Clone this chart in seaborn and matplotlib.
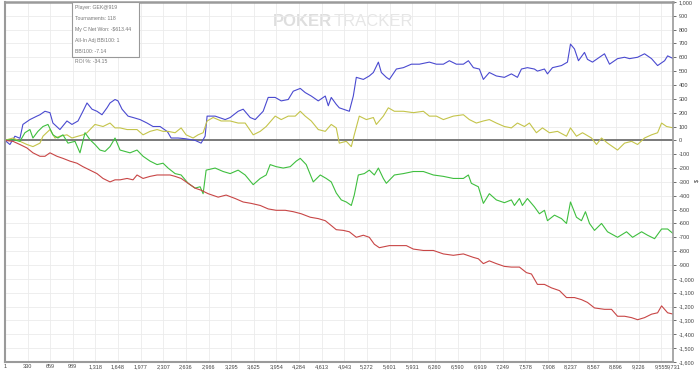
import pandas as pd
import matplotlib.pyplot as plt
from matplotlib.patches import Rectangle
import seaborn as sns

# Hand-read values from the reference graph
blue_hands = [1, 74, 147, 220, 263, 365, 467, 511, 584, 657, 700, 802, 904, 977, 1065, 1137, 1196, 1269,
              1341, 1414, 1487, 1531, 1604, 1647, 1706, 1793, 1866, 1968, 2070, 2157, 2259, 2361, 2376,
              2420, 2522, 2624, 2769, 2857, 2915, 2944, 3061, 3207, 3280, 3396, 3469, 3571, 3644, 3760,
              3833, 3935, 4023, 4125, 4198, 4300, 4372, 4460, 4562, 4664, 4708, 4751, 4824, 4868, 5014,
              5072, 5116, 5218, 5305, 5364, 5437, 5480, 5553, 5597, 5699, 5801, 5917, 6034, 6179, 6281,
              6383, 6470, 6572, 6674, 6747, 6820, 6907, 6965, 7052, 7154, 7271, 7373, 7461, 7519, 7606,
              7708, 7752, 7854, 7898, 7971, 8102, 8189, 8233, 8291, 8349, 8437, 8480, 8553, 8655, 8728,
              8801, 8918, 9020, 9093, 9210, 9311, 9413, 9501, 9603, 9647, 9731]
blue_won = [0, -30, 30, 15, 115, 150, 175, 185, 210, 200, 125, 78, 140, 115, 140, 210, 270, 225,
            210, 185, 235, 270, 295, 285, 225, 175, 165, 150, 125, 100, 100, 65, 55,
            17, 17, 12, 0, -20, 30, 175, 175, 150, 165, 210, 225, 165, 150, 210,
            310, 310, 285, 295, 355, 375, 345, 320, 285, 320, 250, 310, 260, 235, 210,
            320, 455, 440, 465, 490, 565, 490, 455, 440, 515, 525, 550, 550, 565, 550,
            550, 575, 550, 550, 575, 525, 515, 440, 490, 465, 455, 480, 455, 515, 525,
            515, 500, 515, 480, 525, 540, 565, 695, 660, 575, 635, 585, 565, 600, 625,
            550, 590, 600, 590, 600, 625, 590, 540, 575, 610, 590]

yellow_hands = [1, 118, 220, 322, 409, 511, 555, 657, 730, 802, 904, 977, 1065, 1137, 1196, 1312, 1429,
                1531, 1604, 1677, 1779, 1924, 2012, 2114, 2216, 2303, 2376, 2478, 2566, 2638, 2740, 2813,
                2886, 2944, 3032, 3148, 3280, 3396, 3498, 3615, 3717, 3804, 3935, 4023, 4125, 4227, 4300,
                4372, 4460, 4562, 4664, 4751, 4824, 4868, 4970, 5043, 5086, 5159, 5262, 5364, 5407, 5509,
                5582, 5670, 5801, 5946, 6092, 6179, 6281, 6383, 6528, 6674, 6761, 6863, 6965, 7052, 7154,
                7271, 7373, 7461, 7563, 7635, 7737, 7825, 7927, 8044, 8175, 8233, 8320, 8408, 8539, 8612,
                8685, 8772, 8918, 9020, 9122, 9210, 9311, 9413, 9501, 9559, 9632, 9731]
yellow_won = [0, 17, -7, -30, -45, -20, 30, 78, 17, 30, 40, 17, 30, 40, 55, 115, 100,
              125, 90, 90, 78, 78, 40, 65, 78, 65, 65, 55, 90, 40, 17, 40,
              55, 140, 165, 140, 140, 125, 125, 40, 65, 100, 175, 150, 175, 175, 210,
              175, 140, 78, 65, 115, 90, -20, -7, -45, 40, 175, 150, 165, 115, 175,
              235, 210, 210, 200, 210, 175, 175, 150, 175, 185, 150, 125, 140, 150, 125,
              100, 90, 125, 100, 125, 55, 90, 55, 65, 30, 90, 30, 55, 17, -30,
              17, -20, -70, -20, -7, -30, 17, 40, 55, 125, 100, 90]

green_hands = [1, 118, 220, 292, 365, 409, 482, 555, 628, 700, 773, 846, 919, 1021, 1094, 1167, 1239,
               1312, 1385, 1458, 1531, 1604, 1677, 1749, 1822, 1924, 2012, 2114, 2216, 2303, 2376, 2478,
               2566, 2668, 2769, 2842, 2886, 2930, 3061, 3178, 3280, 3396, 3498, 3615, 3717, 3804, 3862,
               3950, 4052, 4154, 4241, 4300, 4387, 4489, 4591, 4678, 4751, 4824, 4897, 4970, 5043, 5086,
               5145, 5232, 5305, 5378, 5437, 5509, 5553, 5670, 5801, 5946, 6092, 6237, 6383, 6528, 6674,
               6747, 6790, 6892, 6965, 7052, 7154, 7271, 7373, 7417, 7490, 7533, 7606, 7708, 7781, 7854,
               7898, 8000, 8102, 8175, 8233, 8320, 8393, 8451, 8510, 8583, 8685, 8772, 8918, 9049, 9137,
               9268, 9355, 9457, 9559, 9647, 9731]
green_won = [0, 5, -7, 55, 78, 17, 65, 100, 115, 40, 17, 40, -20, -7, -90, 55, 5,
             -30, -70, -80, -45, 17, -70, -80, -90, -70, -115, -150, -175, -165, -200, -240,
             -250, -310, -345, -335, -385, -215, -200, -225, -240, -215, -250, -320, -275, -250, -175,
             -190, -200, -190, -150, -130, -175, -300, -250, -275, -300, -380, -430, -445, -470, -395,
             -250, -240, -215, -250, -200, -275, -310, -250, -240, -225, -225, -250, -260, -275, -275,
             -250, -310, -335, -455, -385, -430, -450, -430, -470, -420, -470, -420, -480, -530, -505,
             -580, -540, -565, -600, -445, -555, -580, -515, -600, -650, -600, -660, -700, -660, -700,
             -660, -685, -710, -640, -640, -675]

red_hands = [1, 118, 220, 322, 409, 511, 584, 657, 759, 846, 948, 1050, 1137, 1239, 1341, 1429, 1531,
             1604, 1677, 1779, 1866, 1924, 2012, 2114, 2216, 2303, 2405, 2478, 2566, 2668, 2769, 2857,
             2959, 3105, 3221, 3353, 3469, 3585, 3717, 3833, 3950, 4081, 4198, 4314, 4445, 4562, 4664,
             4751, 4824, 4926, 5014, 5116, 5218, 5305, 5378, 5451, 5597, 5742, 5844, 5946, 6092, 6237,
             6383, 6528, 6674, 6820, 6892, 6965, 7052, 7154, 7271, 7373, 7490, 7592, 7665, 7752, 7854,
             7956, 8073, 8175, 8291, 8393, 8480, 8583, 8728, 8830, 8918, 9020, 9122, 9210, 9311, 9413,
             9501, 9559, 9647, 9731]
red_won = [0, -7, -30, -55, -90, -115, -115, -90, -115, -130, -150, -165, -190, -215, -240, -275, -300,
           -285, -285, -275, -285, -250, -275, -260, -250, -250, -250, -260, -275, -310, -345, -360,
           -385, -410, -395, -420, -445, -455, -470, -495, -505, -505, -515, -530, -555, -565, -580,
           -615, -645, -650, -660, -700, -685, -700, -750, -775, -760, -760, -760, -785, -795, -795,
           -820, -830, -820, -845, -855, -890, -870, -890, -910, -915, -915, -955, -965, -1040, -1040,
           -1065, -1085, -1135, -1135, -1150, -1170, -1210, -1220, -1220, -1270, -1270, -1280, -1295, -1280, -1255,
           -1245, -1195, -1245, -1255]

x_ticks = [1, 330, 659, 989, 1318, 1648, 1977, 2307, 2636, 2966, 3295, 3625, 3954, 4284, 4613, 4943,
           5272, 5601, 5931, 6260, 6590, 6919, 7249, 7578, 7908, 8237, 8567, 8896, 9226, 9555, 9731]
y_ticks = list(range(-1600, 1001, 100))

info_lines = ["Player: GEK@919", "Tournaments: 118", "My C Net Won: -$613.44",
              "All-In Adj BB/100: 1", "BB/100: -7.14", "ROI %: -34.15"]

series = [
    ("blue", blue_hands, blue_won, "#4a4ad0"),
    ("yellow", yellow_hands, yellow_won, "#c4c44a"),
    ("green", green_hands, green_won, "#3fbf3f"),
    ("red", red_hands, red_won, "#c84646"),
]

sns.set_style("white")
plt.rcParams['font.family'] = ['Liberation Sans', 'DejaVu Sans']

fig = plt.figure(figsize=(7, 3.72), dpi=100)
ax = fig.add_axes([0.007, 0.027, 0.955, 0.968])

for name, hands, won, color in series:
    df = pd.DataFrame({"hands": hands, "won": won})
    sns.lineplot(data=df, x="hands", y="won", ax=ax, color=color, linewidth=0.8, estimator=None)

ax.axhline(0, color="#707070", linewidth=1.3, zorder=1)

ax.set_xlim(1, 9731)
ax.set_ylim(-1600, 1000)
ax.set_xticks(x_ticks)
ax.set_xticklabels([f"{t:,}" for t in x_ticks], fontsize=4, color="#444444")
ax.set_yticks(y_ticks)
ax.set_yticklabels([f"{t:,}" for t in y_ticks], fontsize=4, color="#444444")
ax.yaxis.tick_right()
ax.tick_params(axis="y", length=2.5, width=0.6, color="#555555", pad=1.5)
ax.tick_params(axis="x", length=0, pad=1.5)
ax.grid(True, color="#ebebeb", linewidth=0.6)
ax.set_axisbelow(True)

for side in ["left", "right", "top", "bottom"]:
    ax.spines[side].set_visible(True)
    ax.spines[side].set_color("#9a9a9a")
ax.spines["top"].set_linewidth(1.8)
ax.spines["bottom"].set_linewidth(1.5)
ax.spines["left"].set_linewidth(1.5)
ax.spines["right"].set_linewidth(1.2)

ax.set_xlabel("Hands Played", fontsize=4, color="#444444")
ax.xaxis.set_label_coords(0.5, -0.038)
ax.set_ylabel("")
fig.text(0.995, 0.515, "$", fontsize=4, color="#333333", ha="center", va="center", rotation=90)

# watermark
ax.text(0.401, 0.945, "POKER", transform=ax.transAxes, fontsize=12, fontweight="bold",
        color="#dedede", ha="left", va="center", zorder=0)
ax.text(0.491, 0.945, "TRACKER", transform=ax.transAxes, fontsize=12,
        color="#e6e6e6", ha="left", va="center", zorder=0)

# stats box
ax.add_patch(Rectangle((0.1003, 0.847), 0.1003, 0.153, transform=ax.transAxes,
                       facecolor="white", edgecolor="#999999", linewidth=0.8, zorder=3))
ax.text(0.105, 0.99, "\n".join(info_lines), transform=ax.transAxes, fontsize=3.7,
        color="#777777", ha="left", va="top", linespacing=2.45, zorder=4)

fig.savefig("out.png", dpi=100)
